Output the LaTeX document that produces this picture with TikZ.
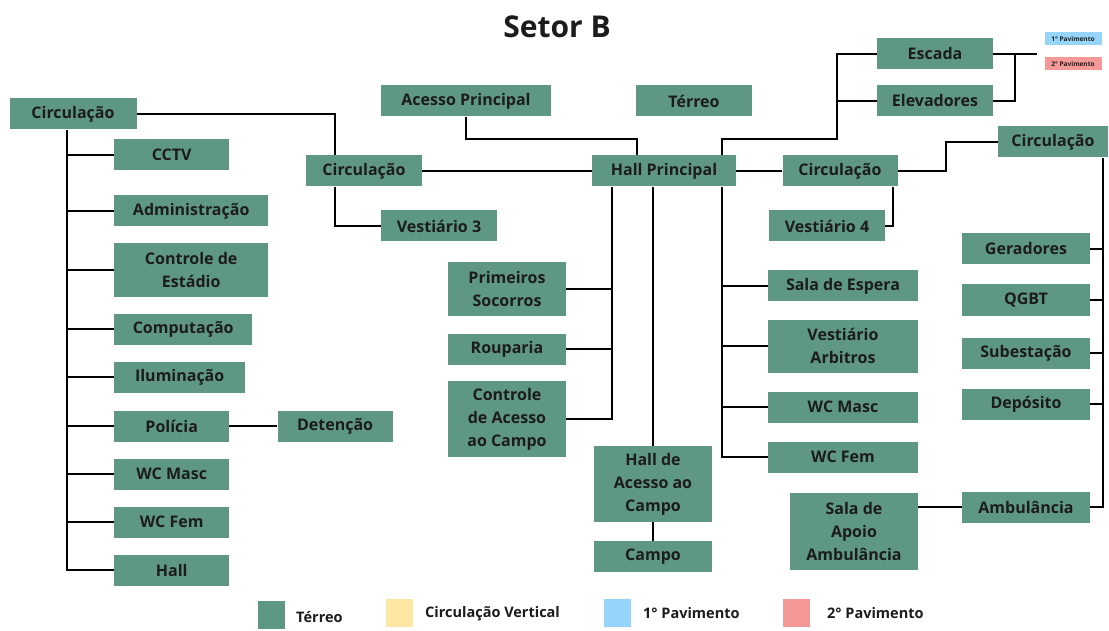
\documentclass[tikz,border=0pt]{standalone}
\usepackage{fontspec}
\setmainfont{Open Sans}
\usetikzlibrary{positioning}
\definecolor{terreo}{RGB}{95,151,133}
\definecolor{vertical}{RGB}{252,232,162}
\definecolor{pav1}{RGB}{150,212,250}
\definecolor{pav2}{RGB}{245,152,152}
\definecolor{txt}{RGB}{28,28,28}
\tikzstyle{block} = [rectangle, fill=terreo, text=txt, font=\bfseries\fontsize{16}{23}\selectfont, align=center, inner sep=0pt, minimum height=31pt]
\tikzstyle{conn} = [draw=black, line width=1.7pt]
\tikzstyle{key} = [rectangle, inner sep=0pt, minimum width=27pt, minimum height=28pt]
\tikzstyle{keytext} = [text=txt, font=\bfseries\fontsize{14.5}{17}\selectfont, anchor=west, inner sep=0pt]
\tikzstyle{tag} = [rectangle, inner sep=0pt, minimum width=57pt, minimum height=13pt, text=txt, font=\bfseries\fontsize{6.5}{7}\selectfont]

\begin{document}
\begin{tikzpicture}[x=1pt, y=-1pt]
      \useasboundingbox[fill=white] (0,0) rectangle (1109,631);
      \node[text=txt, font=\bfseries\fontsize{30}{36}\selectfont] (title) at (557,27) {Setor B};
      % left column
      \node[block, minimum width=127pt] (circL) at (73,114) {Circulação};
      \node[block, anchor=west, minimum width=115pt] (cctv) at (114,155) {CCTV};
      \node[block, anchor=west, minimum width=154pt] (admin) at (114,211) {Administração};
      \node[block, anchor=west, minimum width=154pt, minimum height=54pt] (ctrlest) at (114,270) {Controle de\\Estádio};
      \node[block, anchor=west, minimum width=138pt] (comp) at (114,329) {Computação};
      \node[block, anchor=west, minimum width=131pt] (ilum) at (114,377) {Iluminação};
      \node[block, anchor=west, minimum width=115pt] (pol) at (114,426) {Polícia};
      \node[block, right=48pt of pol, minimum width=115pt] (deten) {Detenção};
      \node[block, anchor=west, minimum width=115pt] (wcmL) at (114,474) {WC Masc};
      \node[block, anchor=west, minimum width=115pt] (wcfL) at (114,522) {WC Fem};
      \node[block, anchor=west, minimum width=115pt] (hallL) at (114,570) {Hall};
      % centre
      \node[block, minimum width=116pt] (circM) at (364,171) {Circulação};
      \node[block, minimum width=116pt] (vest3) at (439,226) {Vestiário 3};
      \node[block, minimum width=170pt] (acesso) at (466,101) {Acesso Principal};
      \node[block, minimum width=116pt] (terreoN) at (694,101) {Térreo};
      \node[block, minimum width=144pt] (hallP) at (664,171) {Hall Principal};
      \node[block, minimum width=118pt, minimum height=53pt] (prim) at (507,289) {Primeiros\\Socorros};
      \node[block, minimum width=118pt] (roup) at (507,349) {Rouparia};
      \node[block, minimum width=118pt, minimum height=76pt] (ctrlac) at (507,419) {Controle\\de Acesso\\ao Campo};
      \node[block, minimum width=118pt, minimum height=76pt] (hallac) at (653,484) {Hall de\\Acesso ao\\Campo};
      \node[block, below=19pt of hallac, minimum width=118pt] (campo) {Campo};
      % right side
      \node[block, minimum width=116pt] (escada) at (935,54) {Escada};
      \node[block, minimum width=116pt] (elev) at (935,101) {Elevadores};
      \node[block, minimum width=115pt] (circR) at (840,171) {Circulação};
      \node[block, minimum width=116pt] (vest4) at (827,226) {Vestiário 4};
      \node[block, minimum width=150pt] (espera) at (843,286) {Sala de Espera};
      \node[block, minimum width=150pt, minimum height=53pt] (vestarb) at (843,346) {Vestiário\\Arbitros};
      \node[block, minimum width=150pt] (wcmR) at (843,407) {WC Masc};
      \node[block, minimum width=150pt] (wcfR) at (843,457) {WC Fem};
      \node[block, minimum width=128pt, minimum height=77pt] (salaap) at (854,531) {Sala de\\Apoio\\Ambulância};
      \node[block, minimum width=110pt] (circFR) at (1053,142) {Circulação};
      \node[block, minimum width=128pt] (gerad) at (1026,249) {Geradores};
      \node[block, minimum width=128pt] (qgbt) at (1026,300) {QGBT};
      \node[block, minimum width=128pt] (subest) at (1026,353) {Subestação};
      \node[block, minimum width=128pt] (depos) at (1026,404) {Depósito};
      \node[block, minimum width=128pt] (ambul) at (1026,507) {Ambulância};
      % small tags
      \node[tag, fill=pav1] (tag1) at (1073,39) {1° Pavimento};
      \node[tag, fill=pav2] (tag2) at (1073,64) {2° Pavimento};
      % legend
      \node[key, fill=terreo] (k1) at (271,615) {};
      \node[keytext] (k1t) at (296,617) {Térreo};
      \node[key, fill=vertical] (k2) at (399,613) {};
      \node[keytext] (k2t) at (425,614) {Circulação Vertical};
      \node[key, fill=pav1] (k3) at (617,613) {};
      \node[keytext] (k3t) at (643,613) {1° Pavimento};
      \node[key, fill=pav2] (k4) at (796,613) {};
      \node[keytext] (k4t) at (827,613) {2° Pavimento};
      % connectors
      \coordinate (lbus) at (67,130);
      \coordinate (vbus) at (837,139);
      \coordinate (sbus) at (1015,54);
      \coordinate (pavend) at (1037,54);
      \coordinate (rbus) at (946,171);
      \draw[conn] (lbus) |- (hallL.west);
      \foreach \n in {cctv,admin,ctrlest,comp,ilum,pol,wcmL,wcfL}
        \draw[conn] (lbus |- \n.west) -- (\n.west);
      \draw[conn] (pol) -- (deten);
      \draw[conn] (circL.east) -| ([xshift=-29pt]circM.north);
      \draw[conn] ([xshift=-29pt]circM.south) |- (vest3.west);
      \draw[conn] (circM) -- (hallP);
      \draw[conn] (acesso.south) -- ++(0,22) -| ([xshift=-27pt]hallP.north);
      \draw[conn] ([xshift=58pt]hallP.north) |- (vbus) |- (escada.west);
      \draw[conn] (vbus |- elev.west) -- (elev.west);
      \draw[conn] (escada.east) -- (pavend);
      \draw[conn] (sbus) |- (elev.east);
      \draw[conn] (hallP) -- (circR);
      \draw[conn] ([xshift=53pt]circR.south) |- (vest4.east);
      \draw[conn] (circR.east) -- (rbus) |- (circFR.west);
      \draw[conn] ([xshift=50pt]circFR.south) |- (ambul.east);
      \foreach \n in {gerad,qgbt,subest,depos}
        \draw[conn] ([xshift=50pt]circFR.south |- \n.east) -- (\n.east);
      \draw[conn] (salaap.east |- ambul.west) -- (ambul.west);
      \draw[conn] ([xshift=58pt]hallP.south) |- (wcfR.west);
      \foreach \n in {espera,vestarb,wcmR}
        \draw[conn] ([xshift=58pt]hallP.south |- \n.west) -- (\n.west);
      \draw[conn] ([xshift=-52pt]hallP.south) |- (ctrlac.east);
      \foreach \n in {prim,roup}
        \draw[conn] ([xshift=-52pt]hallP.south |- \n.east) -- (\n.east);
      \draw[conn] (hallac.north |- hallP.south) -- (hallac.north);
      \draw[conn] (hallac) -- (campo);
    \end{tikzpicture}
\end{document}
